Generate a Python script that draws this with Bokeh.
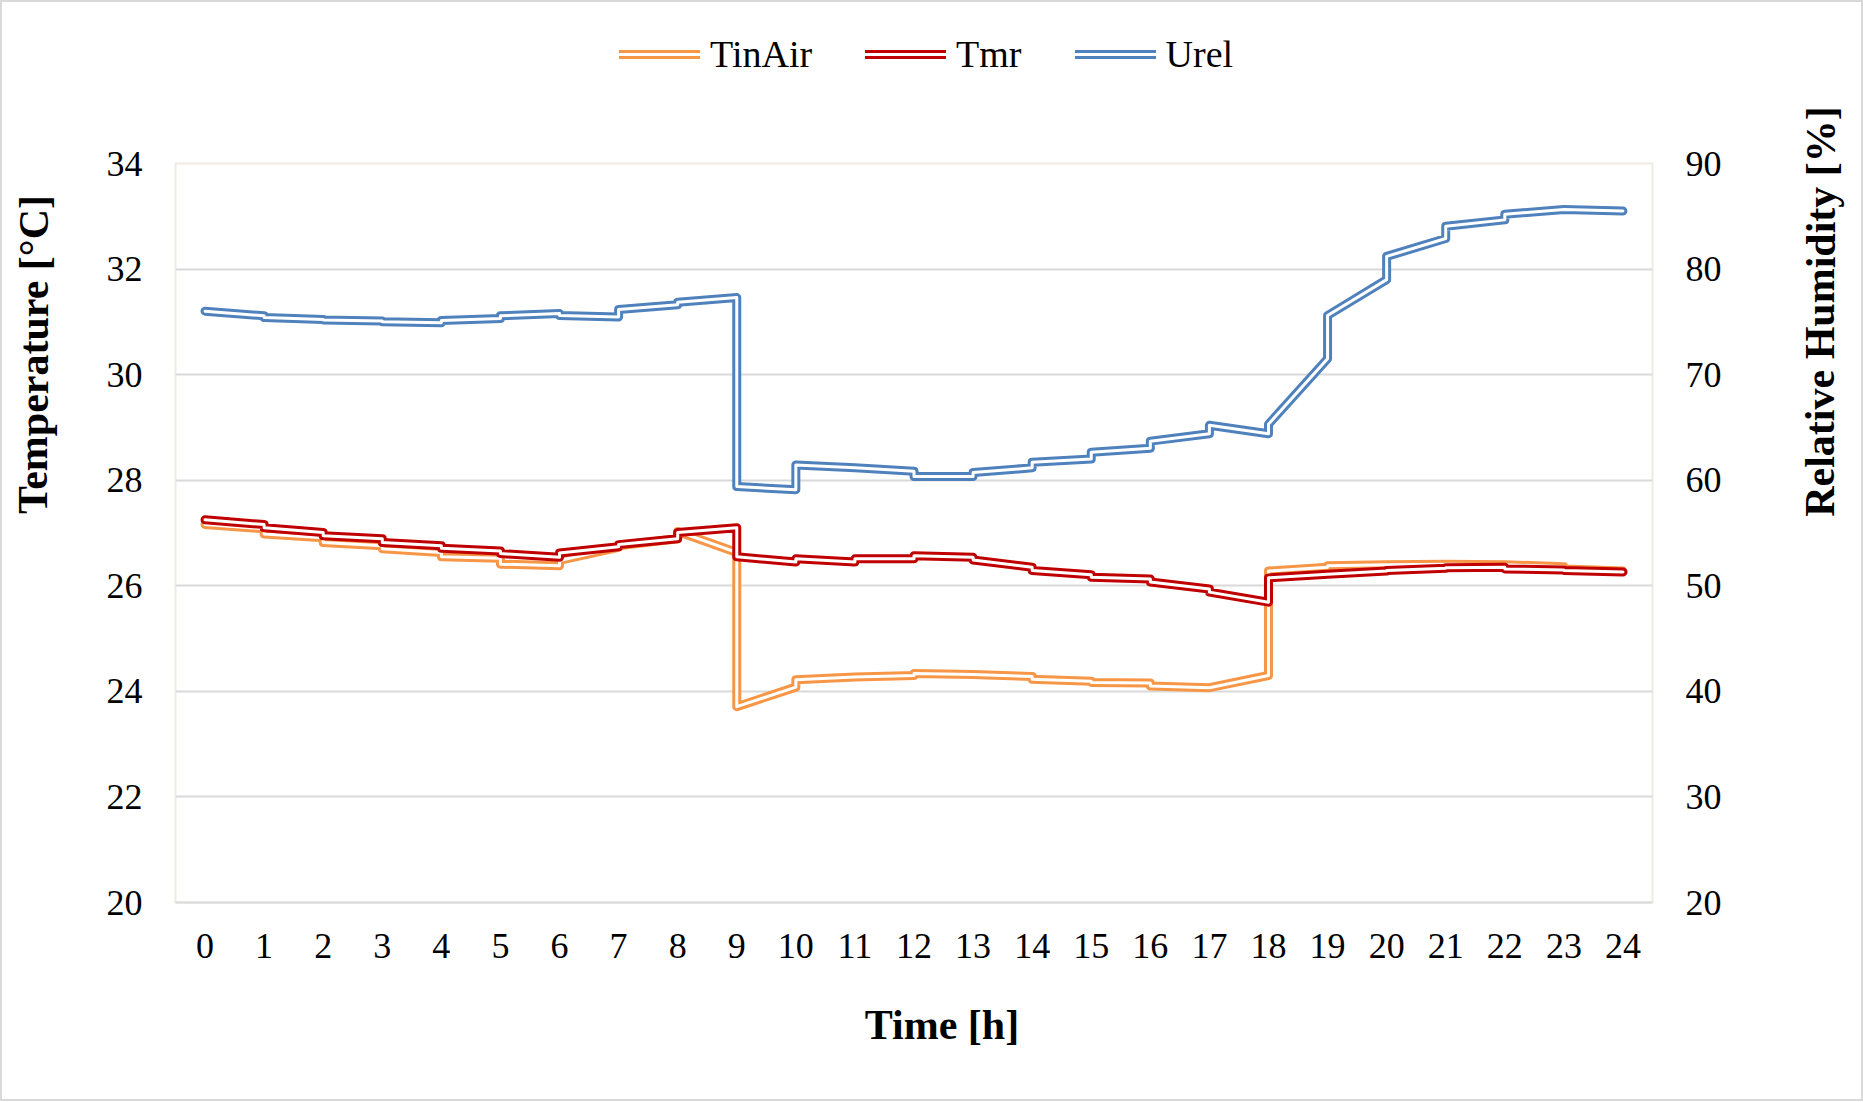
from bokeh.plotting import figure
from bokeh.models import Range1d, LinearAxis, FixedTicker, Legend, LegendItem, Label
from bokeh.layouts import row, column
from bokeh.embed import file_html
from bokeh.resources import INLINE

# ---------------- data ----------------
HOURS = [0, 1, 2, 3, 4, 5, 6, 7, 8, 9, 10, 11, 12, 13, 14, 15, 16, 17, 18, 19, 20, 21, 22, 23, 24]
HOUR_LABELS = ["0", "1", "2", "3", "4", "5", "6", "7", "8", "9", "10", "11", "12",
               "13", "14", "15", "16", "17", "18", "19", "20", "21", "22", "23", "24"]
TEMP_TICKS = [20, 22, 24, 26, 28, 30, 32, 34]
RH_TICKS = [20, 30, 40, 50, 60, 70, 80, 90]

# value at the start of each hour (h) and at its end (h+1), hours 0..23
TINAIR_START = [27.16, 26.98, 26.82, 26.70, 26.55, 26.41, 26.48, 26.76, 27.03, 23.71,
                24.22, 24.27, 24.34, 24.32, 24.23, 24.17, 24.10, 24.07, 26.28, 26.38,
                26.40, 26.41, 26.40, 26.32]
TINAIR_END = [27.08, 26.91, 26.76, 26.63, 26.52, 26.38, 26.73, 26.89, 26.63, 24.08,
              24.27, 24.30, 24.32, 24.28, 24.19, 24.16, 24.07, 24.30, 26.35, 26.40,
              26.41, 26.40, 26.36, 26.28]

TMR_START = [27.25, 27.10, 26.95, 26.82, 26.71, 26.61, 26.62, 26.78, 27.01, 26.55,
             26.51, 26.51, 26.57, 26.49, 26.29, 26.16, 26.07, 25.88, 26.15, 26.22,
             26.29, 26.34, 26.32, 26.29]
TMR_END = [27.16, 27.01, 26.89, 26.76, 26.66, 26.54, 26.74, 26.89, 27.10, 26.45,
           26.45, 26.51, 26.54, 26.35, 26.21, 26.13, 25.94, 25.69, 26.22, 26.28,
           26.33, 26.35, 26.30, 26.26]

UREL_START = [76.01, 75.41, 75.18, 75.00, 75.13, 75.57, 75.60, 76.17, 76.86, 59.40,
              61.45, 61.17, 60.35, 60.73, 61.70, 62.65, 63.70, 65.20, 65.30, 75.60,
              81.20, 84.05, 85.20, 85.64]
UREL_END = [75.57, 75.22, 75.07, 74.91, 75.32, 75.79, 75.47, 76.61, 77.30, 59.10,
            61.17, 60.85, 60.35, 61.17, 62.00, 63.03, 64.40, 64.40, 71.50, 79.00,
            82.90, 84.66, 85.64, 85.50]

SERIES = ["TinAir", "Tmr", "Urel"]
COLORS = ["#F79646", "#C00000", "#4F81BD"]

X_TITLE = "Time [h]"
Y_TITLE = "Temperature [°C]"
Y2_TITLE = "Relative Humidity [%]"

FONT = "Liberation Serif"
OUTER_W, INNER_W = 9, 3


def stepped(start, end):
    xs, ys = [], []
    for h in range(len(start)):
        xs += [HOURS[h], HOURS[h + 1]]
        ys += [start[h], end[h]]
    return xs, ys


SERIES_DATA = [stepped(TINAIR_START, TINAIR_END),
               stepped(TMR_START, TMR_END),
               stepped(UREL_START, UREL_END)]
RANGE_NAMES = ["default", "default", "rh"]


def helper(width, height, xr, yr):
    """blank figure whose data coordinates are page pixels (for titles / legend)"""
    f = figure(width=width, height=height,
               x_range=Range1d(*xr), y_range=Range1d(*yr),
               x_axis_type=None, y_axis_type=None, title=None,
               toolbar_location=None, output_backend="svg",
               min_border=0, min_border_left=0, min_border_right=0,
               min_border_top=0, min_border_bottom=0)
    f.outline_line_color = None
    f.background_fill_alpha = 0
    f.border_fill_alpha = 0
    return f


# ---------------- main chart ----------------
p = figure(width=1700, height=870, title=None,
           x_range=Range1d(-0.5, 24.5), y_range=Range1d(20, 34),
           output_backend="svg", toolbar_location=None,
           min_border_left=85, min_border_right=138,
           min_border_top=43, min_border_bottom=88)
p.extra_y_ranges = {"rh": Range1d(20, 90)}
p.background_fill_color = "white"
p.border_fill_alpha = 0
p.outline_line_color = "#EEECE1"
p.outline_line_width = 2

p.xgrid.visible = False
p.ygrid.ticker = FixedTicker(ticks=TEMP_TICKS)
p.ygrid.grid_line_color = "#D9D9D9"
p.ygrid.grid_line_width = 2


def style_axis(ax, standoff):
    ax.major_tick_line_color = None
    ax.minor_tick_line_color = None
    ax.major_tick_out = 0
    ax.major_tick_in = 0
    ax.major_label_standoff = standoff
    ax.major_label_text_font = FONT
    ax.major_label_text_font_size = "36px"
    ax.major_label_text_color = "black"


xa = p.xaxis[0]
xa.ticker = FixedTicker(ticks=HOURS)
xa.major_label_overrides = {h: lab for h, lab in zip(HOURS, HOUR_LABELS)}
xa.axis_line_color = "#D9D9D9"
xa.axis_line_width = 2
style_axis(xa, 31)

ya = p.yaxis[0]
ya.ticker = FixedTicker(ticks=TEMP_TICKS)
ya.axis_line_color = None
style_axis(ya, 33)

ra = LinearAxis(y_range_name="rh", ticker=FixedTicker(ticks=RH_TICKS))
ra.axis_line_color = None
style_axis(ra, 33)
p.add_layout(ra, "right")

for color, (xs, ys), rng in zip(COLORS, SERIES_DATA, RANGE_NAMES):
    p.line(xs, ys, line_color=color, line_width=OUTER_W, line_join="round",
           line_cap="round", y_range_name=rng)
    p.line(xs, ys, line_color="white", line_width=INNER_W, line_join="round",
           line_cap="round", y_range_name=rng)

# ---------------- legend strip (top); its frame is aligned with the main frame ----------------
top = helper(1700, 120, (175, 1652), (120, 0))
items = []
for name, color, (xs, ys) in zip(SERIES, COLORS, SERIES_DATA):
    # same series, they fall outside this strip's visible area; used for the legend swatches
    o = top.line(xs, ys, line_color=color, line_width=OUTER_W, line_cap="round")
    i = top.line(xs, ys, line_color="white", line_width=INNER_W, line_cap="round")
    items.append(LegendItem(label=name, renderers=[o, i]))
legend = Legend(items=items, orientation="horizontal", location=(444, 44),
                border_line_color=None, background_fill_alpha=0,
                padding=0, margin=0, spacing=53, glyph_width=81, glyph_height=40,
                label_standoff=10, label_height=40,
                label_text_font=FONT, label_text_font_size="38px",
                label_text_color="black")
top.add_layout(legend, "center")

# ---------------- axis titles ----------------
title_style = dict(text_font=FONT, text_font_size="42px", text_font_style="bold",
                   text_color="black", text_align="center", text_baseline="middle")

bottom = helper(1700, 111, (175, 1652), (1101, 990))
bottom.add_layout(Label(x=941.5, y=1024.5, text=X_TITLE, **title_style))

left = helper(90, 1101, (0, 90), (1101, 0))
left.add_layout(Label(x=33, y=354, text=Y_TITLE, angle=1.5707963, **title_style))

right = helper(73, 1101, (1790, 1863), (1101, 0))
right.add_layout(Label(x=1820, y=311, text=Y2_TITLE, angle=1.5707963, **title_style))

layout = row(left, column(top, p, bottom, spacing=0), right, spacing=0)
layout.styles = {"box-shadow": "inset 0 0 0 2px #D9D9D9", "background-color": "white"}

open("out.html", "w").write(file_html(layout, INLINE))
